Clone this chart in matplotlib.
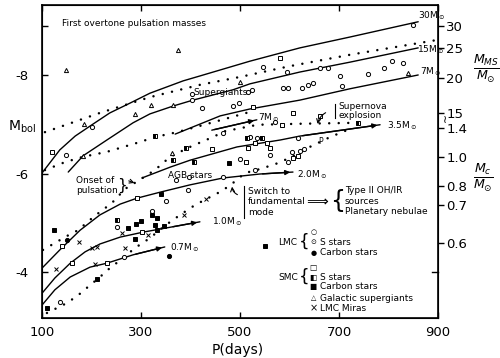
import numpy as np
import matplotlib
matplotlib.use("Agg")
import matplotlib.pyplot as plt

plt.rcParams.update({
    "font.family": "DejaVu Sans",
    "mathtext.fontset": "dejavusans",
    "font.size": 7,
})

# ---- data: P (days), M_bol ----
# solid mass tracks
p_30 = [100, 136, 167, 201, 237, 278, 318, 385, 419, 520, 621, 722, 860]
m_30 = [-6.01, -6.48, -6.76, -6.99, -7.23, -7.43, -7.63, -7.88, -7.98, -8.28, -8.55, -8.77, -9.08]
p_15 = [153, 183, 231, 284, 318, 365, 405, 486, 520, 621, 722, 860]
m_15 = [-6.03, -6.36, -6.68, -7.03, -7.21, -7.37, -7.49, -7.70, -7.82, -8.06, -8.26, -8.55]
p_7a = [369, 460, 520, 621, 722, 860]
m_7a = [-6.80, -7.17, -7.31, -7.49, -7.72, -8.00]
p_7b = [443, 534]
m_7b = [-6.88, -7.09]
p_35 = [302, 359, 399, 494, 581, 621, 783]
m_35 = [-5.91, -6.13, -6.27, -6.54, -6.68, -6.76, -6.99]
p_20 = [100, 136, 177, 217, 258, 292, 338, 399, 466, 540, 607]
m_20 = [-4.08, -4.45, -4.85, -5.16, -5.38, -5.50, -5.62, -5.77, -5.91, -5.99, -6.03]
p_10 = [100, 126, 157, 187, 217, 258, 304, 359, 419]
m_10 = [-3.57, -3.88, -4.18, -4.41, -4.57, -4.71, -4.81, -4.91, -5.02]
p_07 = [100, 126, 157, 197, 231, 284, 348]
m_07 = [-3.33, -3.64, -3.90, -4.10, -4.18, -4.35, -4.51]

# dotted lines
p_d1 = [106, 217, 318, 419, 500, 601, 722, 898]
m_d1 = [-6.84, -7.23, -7.55, -7.80, -7.96, -8.18, -8.41, -8.71]
p_d2 = [106, 146, 183, 231, 298, 328, 373, 449, 520]
m_d2 = [-6.07, -6.23, -6.34, -6.44, -6.64, -6.74, -6.84, -7.05, -7.25]
p_d3 = [102, 126, 150, 173, 197, 217, 241, 268, 294, 328, 359, 399, 445, 470, 536, 621, 738]
m_d3 = [-4.45, -4.59, -4.73, -4.85, -5.06, -5.22, -5.40, -5.69, -5.85, -6.07, -6.34, -6.54, -6.74, -6.86, -6.99, -7.01, -7.03]
p_d4 = [110, 130, 150, 173, 193, 217, 237, 258, 288, 318, 348, 379, 409, 439, 464, 486, 510, 540, 571, 601, 641, 682, 716]
m_d4 = [-3.17, -3.27, -3.37, -3.53, -3.70, -3.90, -4.08, -4.24, -4.49, -4.69, -4.94, -5.16, -5.36, -5.52, -5.65, -5.81, -6.01, -6.09, -6.19, -6.32, -6.54, -6.74, -6.88]

# stars
circ_p = [148, 201, 403, 423, 486, 498, 403, 516, 466, 546, 595, 524, 587, 597, 625, 637, 647,
          662, 678, 702, 706, 759, 791, 807, 829, 850, 571, 520, 534, 617, 561, 605, 621, 629,
          597, 500, 530, 466, 371, 397, 395, 350, 252, 322, 266, 136]
circ_m = [-6.38, -6.94, -7.49, -7.33, -7.37, -7.43, -7.61, -7.65, -6.82, -8.16, -8.06, -7.70, -7.74, -7.74, -7.74, -7.80, -7.84,
          -8.14, -8.14, -7.98, -7.78, -8.02, -8.14, -8.28, -8.24, -9.02, -7.05, -6.74, -6.72, -6.72, -6.38, -6.44, -6.46, -6.50,
          -6.23, -6.30, -6.07, -5.93, -5.87, -5.93, -5.67, -5.44, -4.91, -5.24, -4.31, -3.39]
fcirc_p = [150, 357]
fcirc_m = [-4.65, -4.33]
tri_p = [148, 375, 185, 288, 320, 365, 500, 363, 183, 839]
tri_m = [-8.10, -8.51, -7.01, -7.21, -7.39, -7.39, -7.86, -6.42, -6.36, -8.04]
sq_p = [120, 581, 526, 607, 662, 585, 530, 555, 561, 516, 512, 607, 617, 443, 292, 302, 140, 161, 231]
sq_m = [-6.44, -8.35, -7.35, -7.23, -7.17, -6.99, -6.62, -6.62, -6.52, -6.52, -6.23, -6.32, -6.36, -6.50, -5.50, -4.81, -4.53, -4.18, -4.18]
hsq_p = [738, 514, 544, 328, 391, 365, 407, 252]
hsq_m = [-7.03, -6.72, -6.72, -6.76, -6.52, -6.27, -6.23, -5.06]
fsq_p = [478, 340, 274, 290, 300, 288, 322, 332, 328, 332, 346, 124, 211, 110, 550]
fsq_m = [-6.21, -5.58, -4.89, -4.98, -5.04, -4.67, -5.16, -5.10, -4.96, -4.85, -4.94, -4.85, -3.86, -3.27, -4.53]
x_p = [175, 201, 211, 128, 207, 262, 268, 314, 387, 431]
x_m = [-4.61, -4.49, -4.51, -4.06, -4.16, -4.79, -4.49, -4.75, -5.16, -5.48]

x_ticks = [100, 300, 500, 700, 900]
y_ticks = [-8, -6, -4]
right_labels = ["30", "25", "20", "15", "1.4", "1.0", "0.8", "0.7", "0.6"]
right_pos = [-9.0, -8.55, -7.94, -7.23, -6.92, -6.34, -5.75, -5.36, -4.59]

fig = plt.figure(figsize=(5, 3.58), dpi=100)
ax = fig.add_axes([0.084, 0.112, 0.792, 0.874])

solid = dict(color="k", lw=1.0, solid_capstyle="round")
for p, m in [(p_30, m_30), (p_15, m_15), (p_7a, m_7a), (p_35, m_35),
             (p_20, m_20), (p_10, m_10), (p_07, m_07), (p_7b, m_7b)]:
    ax.plot(p, m, **solid)

# arrow heads on the low-mass tracks
for p, m in [(p_07, m_07), (p_10, m_10), (p_20, m_20), (p_35, m_35), (p_7b, m_7b)]:
    ax.annotate("", xy=(p[-1], m[-1]), xytext=(p[-2], m[-2]),
                arrowprops=dict(arrowstyle="-|>", color="k", lw=1.0, mutation_scale=7))

dots = dict(color="k", lw=1.8, linestyle=(0, (0.01, 3.8)), dash_capstyle="round")
for p, m in [(p_d1, m_d1), (p_d2, m_d2), (p_d3, m_d3), (p_d4, m_d4)]:
    ax.plot(p, m, **dots)

mk = dict(ls="none", color="k", markersize=3.0, markeredgewidth=0.7)
ax.plot(circ_p, circ_m, "o", mfc="white", **mk)
ax.plot(fcirc_p, fcirc_m, "o", mfc="k", **mk)
ax.plot(tri_p, tri_m, "^", mfc="white", **mk)
ax.plot(sq_p, sq_m, "s", mfc="white", **mk)
ax.plot(hsq_p, hsq_m, "s", fillstyle="left", mfc="k", markerfacecoloralt="white", **mk)
ax.plot(fsq_p, fsq_m, "s", mfc="k", **mk)
ax.plot(x_p, x_m, "x", **mk)

ax.set_xlim(100, 900)
ax.set_ylim(-3.07, -9.42)
ax.set_xticks(x_ticks)
ax.set_xticklabels([str(v) for v in x_ticks], fontsize=9.5)
ax.set_yticks([-9] + y_ticks)
ax.set_yticklabels([""] + ["-%d" % abs(v) for v in y_ticks], fontsize=9.5)
ax.tick_params(direction="in", length=4, width=1, top=True, pad=6)
ax.tick_params(axis="y", pad=10)
for s in ax.spines.values():
    s.set_linewidth(1.2)

ax2 = ax.twinx()
ax2.set_ylim(ax.get_ylim())
ax2.set_yticks(right_pos)
ax2.set_yticklabels(right_labels, fontsize=9.5)
ax2.tick_params(direction="out", length=4, width=1, pad=2)
ax2.text(1.018, -7.08, "\u2240", transform=ax2.get_yaxis_transform(), fontsize=8,
         ha="center", va="center")
ax2.plot([1.0, 0.985], [-4.0, -4.0], color="k", lw=1, transform=ax2.get_yaxis_transform(),
         clip_on=False)

fig.text(0.015, 0.645, r"M$_{\rm bol}$", fontsize=10, va="center")
fig.text(0.476, 0.022, "P(days)", fontsize=10, ha="center", va="center")
fig.text(0.946, 0.81, r"$\frac{M_{MS}}{M_{\odot}}$", fontsize=13, va="center")
fig.text(0.946, 0.505, r"$\frac{M_{c}}{M_{\odot}}$", fontsize=13, va="center")

# annotations
t = dict(fontsize=6.5, color="k")
ax.text(140, -9.04, "First overtone pulsation masses", va="center", **t)
ax.text(405, -7.65, "Supergiants", va="center", **t)
ax.text(860, -9.20, r"30M$_\odot$", va="center", **t)
ax.text(858, -8.51, r"15M$_\odot$", va="center", **t)
ax.text(864, -8.06, r"7M$_\odot$", va="center", **t)
ax.text(536, -7.13, r"7M$_\odot$", va="center", **t)
ax.text(797, -6.97, r"3.5M$_\odot$", va="center", **t)
ax.text(615, -5.97, r"2.0M$_\odot$", va="center", **t)
ax.text(443, -5.02, r"1.0M$_\odot$", va="center", **t)
ax.text(359, -4.49, r"0.7M$_\odot$", va="center", **t)
ax.text(355, -5.97, "AGB stars", va="center", **t)
ax.text(168, -5.76, "Onset of\npulsation", va="center", linespacing=1.1, **t)
ax.text(262, -5.76, "}", ha="center", va="center", fontsize=11)
ax.annotate("", xy=(292, -5.79), xytext=(270, -5.87),
            arrowprops=dict(arrowstyle="->", color="k", lw=0.8))
ax.text(698, -7.27, "Supernova\nexplosion", va="center", linespacing=1.0, **t)
ax.plot([692, 692], [-7.42, -7.12], color="k", lw=0.8)
ax.annotate("", xy=(656, -6.95), xytext=(678, -7.26),
            arrowprops=dict(arrowstyle="->", color="k", lw=0.8,
                            connectionstyle="arc3,rad=0.3"))
ax.text(516, -5.43, "Switch to\nfundamental\nmode", va="center", linespacing=1.2, **t)
ax.plot([508, 508], [-5.75, -5.10], color="k", lw=0.8)
ax.annotate("", xy=(484, -5.79), xytext=(500, -5.55),
            arrowprops=dict(arrowstyle="->", color="k", lw=0.8,
                            connectionstyle="arc3,rad=-0.4"))
ax.text(656, -5.47, r"$\Longrightarrow$", ha="center", va="center", fontsize=11)
ax.text(697, -5.45, "{", ha="center", va="center", fontsize=17)
ax.text(712, -5.44, "Type II OH/IR\nsources\nPlanetary nebulae", va="center",
        linespacing=1.2, **t)
ax.text(662, -6.66, "P", ha="center", va="center", fontsize=5.5)

# key
ax.text(578, -4.61, "LMC", va="center", **t)
ax.text(630, -4.61, "{", ha="center", va="center", fontsize=12)
ax.text(648, -4.81, "\u25cb", ha="center", va="center", fontsize=5)
ax.text(648, -4.61, "\u2299", ha="center", va="center", fontsize=5)
ax.text(648, -4.39, "\u25cf", ha="center", va="center", fontsize=5)
ax.text(662, -4.61, "S stars", va="center", **t)
ax.text(662, -4.39, "Carbon stars", va="center", **t)
ax.text(578, -3.90, "SMC", va="center", **t)
ax.text(630, -3.90, "{", ha="center", va="center", fontsize=12)
ax.text(648, -4.10, "\u25a1", ha="center", va="center", fontsize=5.5)
ax.text(648, -3.90, "\u25e7", ha="center", va="center", fontsize=5.5)
ax.text(648, -3.70, "\u25a0", ha="center", va="center", fontsize=5.5)
ax.text(662, -3.90, "S stars", va="center", **t)
ax.text(662, -3.70, "Carbon stars", va="center", **t)
ax.text(648, -3.47, "\u25b3", ha="center", va="center", fontsize=5)
ax.text(662, -3.47, "Galactic supergiants", va="center", **t)
ax.text(648, -3.27, "\u00d7", ha="center", va="center", fontsize=7)
ax.text(662, -3.27, "LMC Miras", va="center", **t)

fig.savefig("out.png", dpi=100, facecolor="white")
